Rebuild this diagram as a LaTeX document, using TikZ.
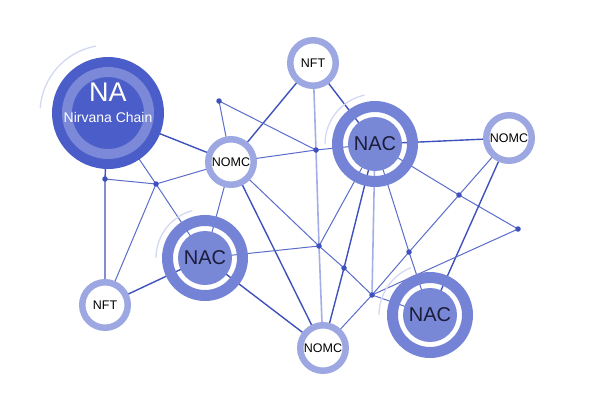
\documentclass[tikz,border=0pt]{standalone}
\usepackage{fontspec}
\setmainfont{Liberation Sans}
\definecolor{naDark}{HTML}{4A5DC8}
\definecolor{naRing}{HTML}{7B89D8}
\definecolor{nacRing}{HTML}{7483D5}
\definecolor{nacDisk}{HTML}{7987D7}
\definecolor{nacText}{HTML}{1B1D3A}
\definecolor{ringLight}{HTML}{9DA8E3}
\definecolor{haloC}{HTML}{D3D8F3}
\definecolor{lnDark}{HTML}{3E51BC}
\definecolor{lnMed}{HTML}{5B6CCA}
\definecolor{lnLight}{HTML}{A3ADE7}
\tikzset{
  darkln/.style={draw=lnDark, line width=1.4pt},
  medln/.style={draw=lnMed, line width=1pt},
  lightln/.style={draw=lnLight, line width=1.6pt},
  dotst/.style={circle, fill=lnDark, inner sep=0pt, minimum size=5.5pt},
  smallnode/.style={circle, fill=white, draw=ringLight, line width=6.5pt, minimum size=45.5pt, inner sep=0pt, font=\fontsize{12.5}{14}\selectfont, text=black},
  nacringst/.style={draw=nacRing, line width=11pt},
  nacnode/.style={circle, fill=nacDisk, minimum size=54pt, inner sep=0pt, font=\fontsize{20}{22}\selectfont, text=nacText},
  halo/.style={draw=haloC, line width=1.3pt},
}
\begin{document}
\begin{tikzpicture}[x=1pt,y=-1pt]
\useasboundingbox (0,0) rectangle (600,413);
% centres
\coordinate (NA) at (108,113);
\coordinate (NFTT) at (313,63);
\coordinate (NOMCL) at (231,162);
\coordinate (NACT) at (375,144);
\coordinate (NOMCR) at (509,138);
\coordinate (NACL) at (205,258);
\coordinate (NFTB) at (105,305);
\coordinate (NOMCB) at (323,348);
\coordinate (NACBR) at (430,315);
% junctions
\coordinate (d1) at (219,101);
\coordinate (d2) at (316,150);
\coordinate (d3) at (105,179);
\coordinate (d4) at (156,184);
\coordinate (d5) at (319,246);
\coordinate (d6) at (344,268);
\coordinate (d7) at (372,295);
\coordinate (d8) at (409,252);
\coordinate (d9) at (459,195);
\coordinate (d10) at (518,229);
% connectors
\path[lightln] (NFTT) -- (d2) -- (d5) -- (NOMCB);
\path[lightln] (NACT) -- (d7);
\path[darkln] (NA) -- (NOMCL);
\path[darkln] (NA) -- (d3) -- (NFTB);
\path[medln] (NA) -- (d4) -- (NACL);
\path[medln] (d3) -- (d4);
\path[medln] (d4) -- (NOMCL);
\path[medln] (d4) -- (NFTB);
\path[darkln] (NFTB) -- (NACL);
\path[darkln] (NOMCL) -- (NFTT);
\path[medln] (NOMCL) -- (d1);
\path[medln] (d1) -- (d2);
\path[medln] (NOMCL) -- (d2) -- (NACT);
\path[darkln] (NFTT) -- (NACT);
\path[medln] (NOMCL) -- (NACL);
\path[darkln] (NOMCL) -- (NOMCB);
\path[medln] (NOMCL) -- (d5) -- (d6) -- (d7) -- (NACBR);
\path[darkln] (NACL) -- (NOMCB);
\path[medln] (NACL) -- (d5);
\path[medln] (d5) -- (NACT);
\path[darkln] (NACT) -- (NOMCR);
\path[medln] (NACT) -- (d9) -- (d10);
\path[medln] (NOMCR) -- (d9) -- (d8) -- (d7);
\path[darkln] (NOMCR) -- (NACBR);
\path[medln] (d10) -- (d7);
\path[darkln] (NACT) -- (d6) -- (NOMCB);
\path[medln] (NACT) -- (d8) -- (NACBR);
\path[medln] (NOMCB) -- (d7);
% junction dots
\foreach \d in {d1,d2,d3,d4,d5,d6,d7,d8,d9,d10} \node[dotst] (dot\d) at (\d) {};
% halo arcs
\draw[halo] (NA) ++(-100:68) arc[start angle=-100, end angle=-176, radius=68];
\draw[halo] (NACT) ++(-102:50) arc[start angle=-102, end angle=-180, radius=50];
\draw[halo] (NACL) ++(-105:49) arc[start angle=-105, end angle=-180, radius=49];
\draw[halo] (NACBR) ++(-112:51) arc[start angle=-112, end angle=-180, radius=51];
% NA
\fill[naDark] (NA) circle (56);
\draw[naRing, line width=10pt] (NA) circle (41);
\node[font=\fontsize{27}{30}\selectfont, text=white] (naTitle) at (108,92) {NA};
\node[font=\fontsize{14}{16}\selectfont, text=white] (naSub) at (108,117) {Nirvana Chain};
% NAC nodes
\draw[nacringst] (NACT) circle (37.5);
\node[nacnode] (nNACT) at (NACT) {NAC};
\draw[nacringst] (NACL) circle (37.5);
\node[nacnode] (nNACL) at (NACL) {NAC};
\draw[nacringst] (NACBR) circle (37.5);
\node[nacnode] (nNACBR) at (NACBR) {NAC};
% small nodes
\node[smallnode] (nNFTT) at (NFTT) {NFT};
\node[smallnode] (nNOMCL) at (NOMCL) {NOMC};
\node[smallnode] (nNOMCR) at (NOMCR) {NOMC};
\node[smallnode] (nNFTB) at (NFTB) {NFT};
\node[smallnode] (nNOMCB) at (NOMCB) {NOMC};
\end{tikzpicture}
\end{document}
